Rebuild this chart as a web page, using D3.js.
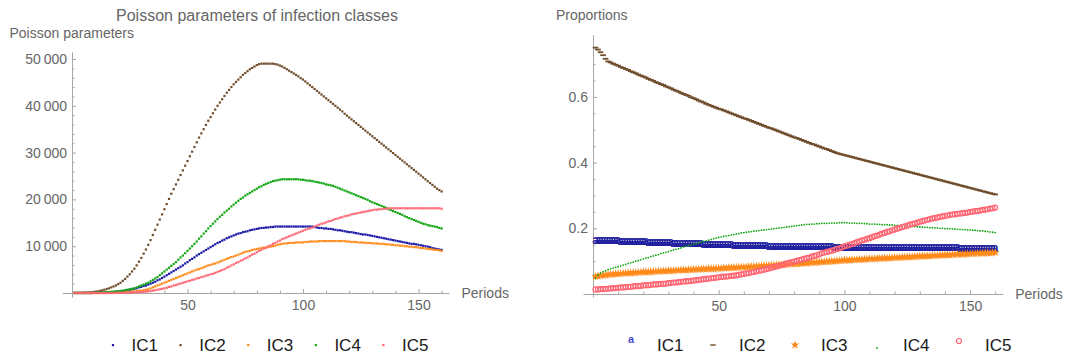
<!DOCTYPE html>
<html>
<head>
<meta charset="utf-8">
<script src="https://cdn.jsdelivr.net/npm/d3@7"></script>
<style>
  html, body { margin: 0; padding: 0; background: #fff; }
  svg { display: block; }
</style>
</head>
<body>
<svg id="chart" width="1073" height="360"></svg>
<script>
// infection classes
const classes = ['IC1', 'IC2', 'IC3', 'IC4', 'IC5'];

// Poisson parameters, in thousands, period 1..160
const lambdaIC1 = [0,0,0,0,0,0,0,0,0,0.05,
  0.05,0.05,0.1,0.1,0.1,0.15,0.2,0.2,0.25,0.3,
  0.35,0.4,0.5,0.6,0.7,0.8,0.9,1.0,1.2,1.3,
  1.5,1.6,1.8,2.0,2.2,2.4,2.7,2.9,3.2,3.5,
  3.8,4.1,4.4,4.7,5.0,5.3,5.6,5.9,6.3,6.6,
  7.0,7.3,7.6,8.0,8.3,8.6,8.9,9.2,9.5,9.8,
  10.1,10.4,10.7,10.9,11.2,11.4,11.7,11.9,12.1,12.3,
  12.5,12.7,12.8,13.0,13.1,13.2,13.4,13.5,13.6,13.7,
  13.8,13.9,13.9,14.0,14.0,14.1,14.1,14.2,14.2,14.2,
  14.2,14.2,14.2,14.2,14.2,14.2,14.2,14.2,14.2,14.2,
  14.2,14.2,14.2,14.2,14.1,14.0,13.9,13.9,13.8,13.8,
  13.7,13.7,13.6,13.5,13.4,13.4,13.3,13.2,13.1,13.0,
  13.0,12.9,12.8,12.7,12.6,12.5,12.5,12.4,12.3,12.2,
  12.1,12.0,11.9,11.8,11.7,11.6,11.5,11.4,11.3,11.2,
  11.1,11.0,10.9,10.8,10.7,10.6,10.5,10.5,10.4,10.3,
  10.2,10.1,10.0,9.9,9.8,9.6,9.5,9.4,9.3,9.2];
const lambdaIC2 = [0.05,0.05,0.05,0.05,0.1,0.1,0.1,0.15,0.2,0.25,
  0.35,0.45,0.55,0.7,0.85,1.0,1.2,1.4,1.6,1.9,
  2.2,2.6,3.0,3.5,4.0,4.6,5.2,5.9,6.7,7.5,
  8.4,9.3,10.3,11.3,12.4,13.5,14.6,15.7,16.8,17.9,
  19.0,20.1,21.2,22.2,23.2,24.2,25.2,26.2,27.2,28.2,
  29.2,30.2,31.2,32.2,33.2,34.1,35.0,35.9,36.8,37.6,
  38.4,39.2,40.0,40.7,41.4,42.1,42.8,43.4,44.0,44.6,
  45.1,45.6,46.1,46.6,47.0,47.4,47.8,48.1,48.4,48.7,
  48.9,49.0,49.0,49.0,49.0,49.0,49.0,48.9,48.8,48.6,
  48.4,48.1,47.8,47.5,47.2,46.9,46.6,46.3,45.9,45.6,
  45.2,44.8,44.4,44.0,43.6,43.2,42.8,42.4,42.0,41.6,
  41.2,40.8,40.4,40.0,39.6,39.2,38.8,38.3,37.9,37.5,
  37.1,36.7,36.3,35.9,35.5,35.1,34.7,34.3,33.9,33.5,
  33.1,32.7,32.3,31.9,31.5,31.1,30.7,30.3,29.9,29.5,
  29.1,28.7,28.3,27.9,27.5,27.1,26.7,26.3,25.9,25.5,
  25.1,24.7,24.3,23.9,23.5,23.1,22.7,22.3,22.0,21.7];
const lambdaIC3 = [0,0,0,0,0,0,0,0,0,0,
  0,0,0,0,0.05,0.05,0.05,0.1,0.1,0.1,
  0.15,0.15,0.2,0.2,0.25,0.3,0.35,0.4,0.45,0.5,
  0.6,0.7,0.8,1.0,1.2,1.4,1.6,1.8,2.0,2.2,
  2.4,2.6,2.8,3.0,3.2,3.4,3.6,3.8,4.0,4.2,
  4.4,4.6,4.8,5.0,5.1,5.3,5.5,5.7,5.9,6.0,
  6.2,6.3,6.5,6.7,6.9,7.1,7.3,7.5,7.7,7.8,
  8.0,8.2,8.4,8.6,8.8,8.9,9.0,9.2,9.3,9.4,
  9.5,9.6,9.7,9.7,9.8,9.9,10.0,10.1,10.3,10.4,
  10.5,10.6,10.6,10.7,10.7,10.7,10.8,10.8,10.8,10.8,
  10.9,10.9,11.0,11.0,11.0,11.0,11.1,11.1,11.1,11.1,
  11.1,11.1,11.1,11.1,11.1,11.1,11.1,11.1,11.0,11.0,
  10.9,10.9,10.9,10.8,10.8,10.8,10.7,10.7,10.7,10.6,
  10.6,10.6,10.5,10.5,10.5,10.4,10.4,10.3,10.3,10.2,
  10.2,10.1,10.1,10.0,10.0,9.9,9.9,9.8,9.8,9.7,
  9.6,9.6,9.5,9.4,9.4,9.3,9.2,9.2,9.1,9.0];
const lambdaIC4 = [0,0,0,0,0,0,0,0,0.05,0.05,
  0.05,0.1,0.1,0.15,0.2,0.2,0.25,0.3,0.35,0.4,
  0.45,0.5,0.6,0.7,0.8,0.9,1.0,1.2,1.4,1.6,
  1.8,2.0,2.2,2.5,2.8,3.1,3.4,3.8,4.2,4.6,
  5.0,5.4,5.8,6.2,6.6,7.1,7.6,8.0,8.5,9.0,
  9.5,10.0,10.5,11.0,11.6,12.1,12.7,13.2,13.8,14.3,
  14.8,15.3,15.8,16.3,16.7,17.2,17.6,18.0,18.5,18.9,
  19.3,19.7,20.1,20.4,20.8,21.1,21.4,21.7,22.0,22.3,
  22.6,22.8,23.1,23.3,23.5,23.7,23.9,24.0,24.1,24.2,
  24.3,24.3,24.3,24.3,24.3,24.3,24.3,24.3,24.2,24.2,
  24.1,24.0,24.0,23.9,23.8,23.7,23.6,23.5,23.4,23.2,
  23.1,23.0,22.9,22.7,22.5,22.3,22.1,21.9,21.7,21.5,
  21.3,21.1,20.9,20.7,20.5,20.3,20.1,19.9,19.6,19.4,
  19.2,19.0,18.8,18.6,18.4,18.2,17.9,17.7,17.5,17.3,
  17.1,16.9,16.7,16.4,16.2,16.0,15.8,15.6,15.4,15.2,
  15.0,14.8,14.7,14.5,14.4,14.3,14.2,14.1,13.9,13.8];
const lambdaIC5 = [0,0,0,0,0,0,0,0,0,0,
  0,0,0,0,0,0,0,0,0,0.05,
  0.05,0.05,0.05,0.1,0.1,0.1,0.15,0.15,0.2,0.2,
  0.25,0.3,0.35,0.4,0.5,0.6,0.7,0.8,0.9,1.0,
  1.1,1.3,1.4,1.6,1.7,1.9,2.0,2.2,2.3,2.5,
  2.6,2.8,2.9,3.1,3.2,3.4,3.5,3.7,3.8,4.0,
  4.1,4.3,4.5,4.7,4.9,5.1,5.4,5.6,5.9,6.1,
  6.4,6.6,6.9,7.1,7.4,7.6,7.9,8.2,8.4,8.7,
  9.0,9.2,9.5,9.7,10.0,10.2,10.5,10.7,11.0,11.2,
  11.5,11.7,11.9,12.1,12.3,12.5,12.7,12.9,13.1,13.3,
  13.5,13.7,13.8,14.0,14.2,14.4,14.6,14.8,14.9,15.1,
  15.3,15.4,15.6,15.8,15.9,16.1,16.2,16.4,16.5,16.6,
  16.8,16.9,17.0,17.1,17.2,17.3,17.4,17.5,17.6,17.7,
  17.8,17.8,17.9,17.9,18.0,18.0,18.1,18.1,18.1,18.1,
  18.1,18.1,18.1,18.1,18.1,18.1,18.1,18.1,18.1,18.1,
  18.1,18.1,18.1,18.1,18.1,18.1,18.1,18.1,18.1,18.0];

// proportions, period 1..160
const propIC1 = [0.163,0.163,0.162,0.162,0.162,0.162,0.161,0.161,0.161,0.161,
  0.160,0.160,0.160,0.159,0.159,0.159,0.158,0.158,0.158,0.158,
  0.158,0.157,0.157,0.157,0.157,0.156,0.156,0.156,0.155,0.155,
  0.155,0.154,0.154,0.154,0.154,0.153,0.153,0.153,0.153,0.152,
  0.152,0.152,0.152,0.151,0.151,0.151,0.151,0.150,0.150,0.150,
  0.150,0.149,0.149,0.149,0.149,0.148,0.148,0.148,0.147,0.147,
  0.147,0.147,0.147,0.146,0.146,0.146,0.146,0.146,0.146,0.145,
  0.145,0.145,0.145,0.145,0.145,0.145,0.144,0.144,0.144,0.144,
  0.144,0.144,0.144,0.144,0.144,0.143,0.143,0.143,0.143,0.143,
  0.143,0.143,0.143,0.143,0.143,0.142,0.142,0.142,0.142,0.142,
  0.142,0.142,0.142,0.142,0.142,0.142,0.141,0.141,0.141,0.141,
  0.141,0.141,0.141,0.141,0.141,0.141,0.141,0.141,0.141,0.141,
  0.140,0.140,0.140,0.140,0.140,0.140,0.140,0.140,0.140,0.140,
  0.140,0.140,0.140,0.140,0.140,0.140,0.140,0.140,0.140,0.140,
  0.140,0.140,0.140,0.140,0.140,0.139,0.139,0.139,0.139,0.139,
  0.139,0.139,0.139,0.139,0.139,0.139,0.139,0.139,0.139,0.139];
const propIC2 = [0.750,0.744,0.736,0.727,0.716,0.708,0.705,0.701,0.698,0.695,
  0.691,0.688,0.685,0.682,0.678,0.675,0.672,0.668,0.665,0.662,
  0.659,0.655,0.652,0.649,0.645,0.642,0.639,0.636,0.632,0.629,
  0.626,0.622,0.619,0.616,0.612,0.609,0.606,0.603,0.599,0.596,
  0.593,0.589,0.586,0.583,0.579,0.576,0.573,0.570,0.567,0.564,
  0.562,0.559,0.556,0.553,0.550,0.547,0.544,0.541,0.538,0.535,
  0.533,0.530,0.527,0.524,0.521,0.518,0.515,0.512,0.509,0.506,
  0.504,0.501,0.498,0.495,0.492,0.489,0.486,0.483,0.480,0.477,
  0.475,0.472,0.469,0.466,0.463,0.460,0.457,0.455,0.452,0.449,
  0.446,0.443,0.441,0.438,0.435,0.432,0.429,0.427,0.425,0.423,
  0.421,0.419,0.417,0.415,0.413,0.411,0.409,0.407,0.405,0.403,
  0.401,0.399,0.397,0.395,0.393,0.391,0.389,0.387,0.385,0.383,
  0.381,0.379,0.377,0.375,0.373,0.371,0.369,0.367,0.365,0.363,
  0.361,0.359,0.357,0.355,0.353,0.351,0.349,0.347,0.345,0.343,
  0.341,0.339,0.337,0.335,0.333,0.331,0.329,0.327,0.325,0.323,
  0.321,0.319,0.317,0.315,0.313,0.311,0.309,0.307,0.305,0.303];
const propIC3 = [0.053,0.055,0.056,0.057,0.058,0.059,0.060,0.060,0.061,0.062,
  0.062,0.063,0.063,0.064,0.064,0.065,0.065,0.066,0.066,0.067,
  0.067,0.067,0.068,0.068,0.069,0.069,0.069,0.070,0.070,0.071,
  0.071,0.071,0.072,0.072,0.073,0.073,0.073,0.074,0.074,0.075,
  0.075,0.075,0.076,0.076,0.076,0.077,0.077,0.077,0.078,0.078,
  0.078,0.079,0.079,0.080,0.080,0.080,0.081,0.081,0.082,0.082,
  0.082,0.083,0.083,0.084,0.084,0.085,0.085,0.086,0.086,0.087,
  0.087,0.088,0.088,0.089,0.089,0.090,0.090,0.091,0.091,0.092,
  0.092,0.093,0.093,0.094,0.094,0.095,0.096,0.096,0.097,0.097,
  0.098,0.098,0.099,0.099,0.100,0.100,0.101,0.101,0.102,0.103,
  0.103,0.103,0.104,0.104,0.105,0.105,0.105,0.106,0.106,0.107,
  0.107,0.107,0.108,0.108,0.109,0.109,0.109,0.110,0.110,0.111,
  0.111,0.111,0.112,0.112,0.113,0.113,0.113,0.114,0.114,0.115,
  0.115,0.115,0.116,0.116,0.117,0.117,0.117,0.118,0.118,0.119,
  0.119,0.119,0.120,0.120,0.121,0.121,0.121,0.122,0.122,0.123,
  0.123,0.123,0.124,0.124,0.124,0.125,0.125,0.125,0.126,0.126];
const propIC4 = [0.048,0.058,0.064,0.068,0.071,0.074,0.077,0.079,0.081,0.083,
  0.085,0.088,0.090,0.093,0.095,0.097,0.100,0.102,0.104,0.107,
  0.109,0.111,0.114,0.116,0.118,0.120,0.123,0.125,0.127,0.129,
  0.132,0.134,0.136,0.138,0.140,0.143,0.145,0.147,0.149,0.152,
  0.154,0.156,0.158,0.160,0.162,0.164,0.166,0.168,0.170,0.172,
  0.174,0.175,0.177,0.178,0.180,0.181,0.183,0.184,0.186,0.187,
  0.188,0.189,0.190,0.191,0.192,0.193,0.194,0.195,0.196,0.197,
  0.198,0.199,0.200,0.201,0.202,0.203,0.204,0.205,0.206,0.207,
  0.208,0.209,0.210,0.211,0.212,0.212,0.213,0.213,0.214,0.214,
  0.215,0.215,0.215,0.216,0.216,0.216,0.216,0.217,0.217,0.217,
  0.217,0.216,0.216,0.216,0.215,0.215,0.215,0.214,0.214,0.213,
  0.213,0.213,0.212,0.212,0.211,0.211,0.211,0.210,0.210,0.209,
  0.209,0.208,0.208,0.207,0.207,0.206,0.206,0.205,0.205,0.204,
  0.204,0.203,0.203,0.202,0.202,0.201,0.201,0.200,0.200,0.199,
  0.199,0.199,0.198,0.198,0.197,0.197,0.196,0.196,0.195,0.195,
  0.194,0.194,0.193,0.192,0.192,0.191,0.190,0.189,0.188,0.187];
const propIC5 = [0.014,0.014,0.015,0.015,0.016,0.016,0.017,0.018,0.018,0.019,
  0.020,0.020,0.021,0.022,0.022,0.023,0.024,0.024,0.025,0.026,
  0.027,0.027,0.028,0.029,0.029,0.030,0.031,0.031,0.032,0.033,
  0.034,0.035,0.035,0.036,0.037,0.038,0.039,0.039,0.040,0.041,
  0.042,0.043,0.044,0.045,0.046,0.047,0.048,0.049,0.050,0.051,
  0.052,0.053,0.053,0.054,0.055,0.056,0.057,0.058,0.060,0.061,
  0.063,0.064,0.066,0.067,0.069,0.071,0.072,0.074,0.076,0.078,
  0.080,0.082,0.084,0.086,0.088,0.090,0.093,0.095,0.097,0.099,
  0.101,0.103,0.105,0.107,0.109,0.111,0.114,0.116,0.118,0.121,
  0.124,0.126,0.128,0.130,0.132,0.134,0.137,0.139,0.142,0.145,
  0.147,0.150,0.152,0.155,0.158,0.160,0.163,0.165,0.168,0.170,
  0.173,0.176,0.178,0.181,0.184,0.186,0.189,0.191,0.194,0.196,
  0.199,0.201,0.204,0.206,0.208,0.211,0.213,0.215,0.217,0.220,
  0.222,0.224,0.226,0.228,0.230,0.231,0.233,0.235,0.236,0.238,
  0.239,0.241,0.242,0.243,0.244,0.245,0.246,0.247,0.248,0.250,
  0.251,0.252,0.253,0.254,0.256,0.257,0.258,0.260,0.261,0.263];

// ticks
const periodTicks = [50, 100, 150];
const periodMinorTicks = [10, 20, 30, 40, 60, 70, 80, 90, 110, 120, 130, 140, 160];
const lambdaTicks = [10000, 20000, 30000, 40000, 50000];
const propTicks = [0.2, 0.4, 0.6];

const FONT = '"Liberation Sans", Arial, Helvetica, sans-serif';
const AXIS = '#a6a6a6';
const LABEL = '#666';
const colors = ['#1a1aa6', '#6f4c2a', '#ff8a1a', '#16a616', '#ff6673'];

const svg = d3.select('#chart').attr('font-family', FONT);

const axes = (g, x, y, o) => {
  const x0 = x(0) + 0.5;
  const y0 = y(0) + 0.5;

  g.append('line')
    .attr('x1', x(o.xLo)).attr('x2', x(o.xHi))
    .attr('y1', y0).attr('y2', y0);
  g.append('line')
    .attr('x1', x0).attr('x2', x0)
    .attr('y1', y(o.yLo)).attr('y2', y(o.yHi));
  g.selectAll('line').attr('stroke', AXIS);

  g.append('g')
    .attr('transform', `translate(0,${y(0)})`)
    .call(d3.axisBottom(x).tickValues(periodTicks).tickSize(-4).tickPadding(7).tickFormat(d3.format('d')));
  g.append('g')
    .attr('transform', `translate(0,${y(0)})`)
    .call(d3.axisBottom(x).tickValues(periodMinorTicks).tickSize(-2.5).tickFormat(''));
  g.append('g')
    .attr('transform', `translate(${x(0)},0)`)
    .call(d3.axisLeft(y).tickValues(o.yTicks).tickSize(-4).tickPadding(5).tickFormat(o.yFormat));
  g.append('g')
    .attr('transform', `translate(${x(0)},0)`)
    .call(d3.axisLeft(y).tickValues(o.yMinor).tickSize(-2.5).tickFormat(''));

  g.selectAll('.domain').remove();
  g.selectAll('.tick line').attr('stroke', AXIS);
  g.selectAll('g').attr('font-family', FONT).attr('font-size', 14);
  g.selectAll('.tick text').attr('fill', LABEL);

  g.append('text')
    .attr('x', x(o.xHi) + 12)
    .attr('y', y(0) + 5)
    .attr('font-size', 14)
    .attr('fill', LABEL)
    .text('Periods');
};

// ---------- left: Poisson parameters ----------
const xL = d3.scaleLinear().domain([0, 160]).range([72, 441.6]);
const yL = d3.scaleLinear().domain([0, 50000]).range([293, 59]);

const lambdaSeries = [lambdaIC1, lambdaIC2, lambdaIC3, lambdaIC4, lambdaIC5];

const left = svg.append('g');
axes(left, xL, yL, {
  xLo: -4, xHi: 163.4, yLo: -1000, yHi: 51400,
  yTicks: lambdaTicks,
  yMinor: d3.range(2000, 50000, 2000).filter(v => v % 10000),
  yFormat: d => d3.format(',')(d).replace(',', '\u2009'),
});

lambdaSeries.forEach((values, k) => {
  left.append('g')
    .attr('fill', colors[k])
    .selectAll('rect')
    .data(values.map((v, i) => [i + 1, v * 1000]))
    .join('rect')
    .attr('x', d => xL(d[0]) - 1.1)
    .attr('y', d => yL(d[1]) - 1.1)
    .attr('width', 2.2)
    .attr('height', 2.2);
});

left.append('text')
  .attr('x', 257).attr('y', 21)
  .attr('text-anchor', 'middle')
  .attr('font-size', 16)
  .attr('fill', LABEL)
  .text('Poisson parameters of infection classes');

left.append('text')
  .attr('x', 9.5).attr('y', 38)
  .attr('font-size', 14)
  .attr('fill', LABEL)
  .text('Poisson parameters');

// legend
const legL = left.append('g');
classes.forEach((name, k) => {
  const cx = 113 + k * 67.6;
  legL.append('rect')
    .attr('x', cx - 1.1).attr('y', 344)
    .attr('width', 2.2).attr('height', 2.2)
    .attr('fill', colors[k]);
  legL.append('text')
    .attr('x', cx + 18.6).attr('y', 351)
    .attr('font-size', 17)
    .attr('fill', '#1a1a1a')
    .text(name);
});

// ---------- right: proportions ----------
const xR = d3.scaleLinear().domain([0, 160]).range([593, 995.2]);
const yR = d3.scaleLinear().domain([0, 0.6]).range([294, 96.9]);

const propSeries = [propIC1, propIC2, propIC3, propIC4, propIC5];

const right = svg.append('g');
axes(right, xR, yR, {
  xLo: -3.8, xHi: 163.2, yLo: -0.01, yHi: 0.788,
  yTicks: propTicks,
  yMinor: [0.05, 0.1, 0.15, 0.25, 0.3, 0.35, 0.45, 0.5, 0.55, 0.65, 0.7, 0.75],
  yFormat: d3.format('.1f'),
});

right.append('text')
  .attr('x', 556).attr('y', 20)
  .attr('font-size', 14)
  .attr('fill', LABEL)
  .text('Proportions');

const star = d3.symbol(d3.symbolStar, 24);

// plot markers for each class at (cx, cy)
const marker = (g, k, cx, cy, legend) => {
  if (k === 0) {
    g.append('text')
      .attr('x', cx).attr('y', cy).attr('dy', '0.27em')
      .attr('text-anchor', 'middle')
      .attr('font-size', legend ? 11 : 12).attr('font-weight', 'bold')
      .attr('fill', legend ? '#4848c8' : '#1f1fa0')
      .text('a');
  } else if (k === 1) {
    g.append('line')
      .attr('x1', cx - 2.8).attr('x2', cx + 2.8)
      .attr('y1', cy).attr('y2', cy)
      .attr('stroke', colors[1]).attr('stroke-width', legend ? 1.4 : 1.8);
  } else if (k === 2) {
    g.append('path')
      .attr('transform', `translate(${cx},${cy})`)
      .attr('d', star())
      .attr('fill', colors[2]);
  } else if (k === 3) {
    g.append('circle')
      .attr('cx', cx).attr('cy', cy).attr('r', 0.9)
      .attr('fill', colors[3]);
  } else {
    g.append('circle')
      .attr('cx', cx).attr('cy', cy).attr('r', 2.5)
      .attr('fill', 'none')
      .attr('stroke', colors[4]).attr('stroke-width', 1.2);
  }
};

propSeries.forEach((values, k) => {
  const g = right.append('g');
  values.forEach((v, i) => marker(g, k, xR(i + 1), yR(v), false));
});

const legR = right.append('g');
const legendMarkerY = [340.5, 345, 345, 348, 341];
classes.forEach((name, k) => {
  const cx = 631 + k * 82;
  marker(legR, k, cx, legendMarkerY[k], true);
  legR.append('text')
    .attr('x', cx + 26).attr('y', 351)
    .attr('font-size', 17)
    .attr('fill', '#1a1a1a')
    .text(name);
});
</script>
</body>
</html>
